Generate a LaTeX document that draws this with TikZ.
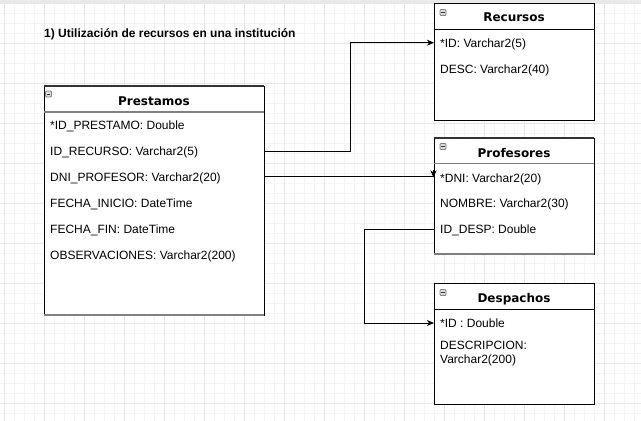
\documentclass[tikz,border=0pt]{standalone}
\usepackage{fontspec}
\setmainfont{Liberation Sans}
\newfontfamily\hdrfont{DejaVu Sans}
\usetikzlibrary{arrows.meta}
\definecolor{gridminor}{HTML}{F4F4F4}
\definecolor{gridmajor}{HTML}{E6E6E6}
\definecolor{band}{HTML}{E9E9E9}
\definecolor{sepgray}{HTML}{808080}
\definecolor{topgray}{HTML}{333333}
\definecolor{iconfill}{HTML}{DDDDDD}
\tikzset{
  tablebox/.style={draw=black, line width=1pt, fill=white, rectangle, inner sep=0pt, anchor=north west},
  field/.style={anchor=base west, inner sep=0pt, font=\fontsize{12}{14.4}\selectfont, text=black},
  hdr/.style={anchor=base, inner sep=0pt, font=\hdrfont\bfseries\fontsize{12}{14}\selectfont},
  conn/.style={draw=black, line width=1pt},
  tip/.style={-{Stealth[length=7pt,width=6pt,inset=2pt]}},
  iconbox/.style={draw=sepgray, fill=iconfill, line width=0.9pt, rounded corners=1pt},
  iconbar/.style={draw=topgray, line width=1pt},
}
\begin{document}
\begin{tikzpicture}[x=1pt,y=-1pt]
\useasboundingbox (0,0) rectangle (641,421);
\fill[white] (0,0) rectangle (641,421);
% grid
\foreach \x in {4,14,...,634} \draw[gridminor, line width=0.8pt] (\x,0) -- (\x,421);
\foreach \y in {3,13,...,413} \draw[gridminor, line width=0.8pt] (0,\y) -- (641,\y);
\foreach \x in {4,44,...,604} \draw[gridmajor, line width=0.8pt] (\x,0) -- (\x,421);
\foreach \y in {3,43,...,403} \draw[gridmajor, line width=0.8pt] (0,\y) -- (641,\y);
\fill[band] (0,0) rectangle (641,3);

% title
\node[anchor=base west, inner sep=0pt, font=\bfseries\fontsize{12}{14}\selectfont] (title) at (44,37.6) {1) Utilización de recursos en una institución};

% ---------- Prestamos ----------
\node[tablebox, minimum width=220pt, minimum height=229pt] (prest) at (44,86) {};
\draw[topgray, line width=1.5pt] (44,86) -- (264,86);
\draw[sepgray, line width=1.5pt] (44,112) -- (264,112);
\draw[sepgray, line width=1.5pt] (44,315) -- (264,315);
\draw[iconbox] (45.5,91) rectangle (51.5,97);
\draw[iconbar] (46.8,94) -- (50.2,94);
\node[hdr] (prestH) at (154,105) {Prestamos};
\node[field] (p1) at (50,129.3) {*ID\_PRESTAMO: Double};
\node[field] (p2) at (50,155.3) {ID\_RECURSO: Varchar2(5)};
\node[field] (p3) at (50,181.6) {DNI\_PROFESOR: Varchar2(20)};
\node[field] (p4) at (50,207.6) {FECHA\_INICIO: DateTime};
\node[field] (p5) at (50,233.6) {FECHA\_FIN: DateTime};
\node[field] (p6) at (50,259.3) {OBSERVACIONES: Varchar2(200)};

% ---------- Recursos ----------
\node[tablebox, minimum width=160pt, minimum height=117pt] (rec) at (434,3.3) {};
\draw[black, line width=1pt] (434,29.3) -- (594,29.3);
\draw[iconbox] (440,9.5) rectangle (446,15.5);
\draw[iconbar] (441.3,12.5) -- (444.7,12.5);
\node[hdr] (recH) at (514,21.7) {Recursos};
\node[field] (r1) at (440,47) {*ID: Varchar2(5)};
\node[field] (r2) at (440,73.3) {DESC: Varchar2(40)};

% ---------- Profesores ----------
\node[tablebox, minimum width=160pt, minimum height=116pt] (prof) at (434,138) {};
\draw[topgray, line width=1.5pt] (434,138) -- (594,138);
\draw[sepgray, line width=1.5pt] (434,163.5) -- (594,163.5);
\draw[sepgray, line width=1.5pt] (434,254) -- (594,254);
\draw[iconbox] (440,143.5) rectangle (446,149.5);
\draw[iconbar] (441.3,146.5) -- (444.7,146.5);
\node[hdr] (profH) at (514,157) {Profesores};
\node[field] (f1) at (440,182) {*DNI: Varchar2(20)};
\node[field] (f2) at (440,207.6) {NOMBRE: Varchar2(30)};
\node[field] (f3) at (440,233.6) {ID\_DESP: Double};

% ---------- Despachos ----------
\node[tablebox, minimum width=160pt, minimum height=120.5pt] (desp) at (434,283.3) {};
\draw[black, line width=1pt] (434,309.3) -- (594,309.3);
\draw[iconbox] (440,289.5) rectangle (446,295.5);
\draw[iconbar] (441.3,292.5) -- (444.7,292.5);
\node[hdr] (despH) at (514,302) {Despachos};
\node[field] (d1) at (440,327) {*ID : Double};
\node[field, align=left, anchor=north west] (d2) at (440,340.5) {DESCRIPCION:\\Varchar2(200)};

% ---------- connectors ----------
\coordinate (c1a) at (264,151.3);
\coordinate (c1b) at (350,42.7);
\coordinate (c1c) at (434,42.7);
\draw[conn, tip] (c1a) -| (c1b) -- (c1c);

\coordinate (c2a) at (264,176.3);
\coordinate (c2b) at (433.5,176.3);
\coordinate (c2t) at (433.5,169.5);
\coordinate (c2e) at (433.5,177.5);
\draw[conn] (c2a) -- (c2b);
\draw[conn, tip] (c2t) -- (c2e);

\coordinate (c3a) at (434,229.3);
\coordinate (c3b) at (364.5,323);
\coordinate (c3c) at (434,323);
\draw[conn, tip] (c3a) -| (c3b) -- (c3c);
\end{tikzpicture}
\end{document}
